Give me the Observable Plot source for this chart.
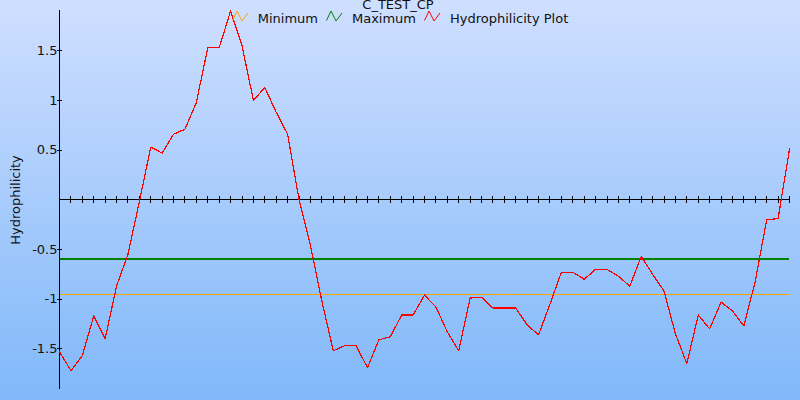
<!DOCTYPE html>
<html>
<head>
<meta charset="utf-8">
<script src="https://cdn.jsdelivr.net/npm/d3@7"></script>
<script src="https://cdn.jsdelivr.net/npm/@observablehq/plot@0.6"></script>
<style>
html, body { margin: 0; padding: 0; }
#chart {
  position: relative; width: 800px; height: 400px; overflow: hidden;
  background: linear-gradient(to bottom, #cfdfff 0%, #80b8f9 100%);
  font-family: "DejaVu Sans", sans-serif; color: #111;
}
#plotHost { position: absolute; left: 0; top: 0; }
#title {
  position: absolute; top: -1.5px; left: 0; width: 796px; text-align: center;
  font-size: 13px; line-height: 12px; z-index: 2;
}
#legend {
  position: absolute; top: 11.5px; left: 0; width: 800px; z-index: 2;
  display: flex; justify-content: center; font-size: 13px; line-height: 13px;
}
.item { display: flex; align-items: flex-start; margin: 0 4px; }
.item svg { display: block; margin-right: 9px; margin-top: -1.5px; }
</style>
</head>
<body>
<div id="chart">
  <div id="plotHost"></div>
  <div id="title"></div>
  <div id="legend"></div>
</div>
<script>
// ---- data ----
const title = "C_TEST_CP";
const yLabel = "Hydrophilicity";
const seriesNames = ["Minimum", "Maximum", "Hydrophilicity Plot"];
const seriesColors = ["#ffa500", "#008000", "#ff0000"];
const minimumValue = -0.955;
const maximumValue = -0.6;
const hydrophilicity = [
  -1.53, -1.72, -1.57, -1.17, -1.40, -0.87, -0.55, -0.02, 0.53, 0.47,
  0.66, 0.71, 0.98, 1.53, 1.53, 1.90, 1.55, 1.00, 1.13, 0.88,
  0.66, 0.00, -0.46, -1.02, -1.52, -1.47, -1.47, -1.69, -1.41, -1.38,
  -1.16, -1.16, -0.96, -1.08, -1.33, -1.52, -0.99, -0.98, -1.09, -1.09,
  -1.09, -1.26, -1.36, -1.05, -0.73, -0.73, -0.80, -0.70, -0.70, -0.77,
  -0.87, -0.57, -0.75, -0.92, -1.35, -1.65, -1.16, -1.30, -1.03, -1.12,
  -1.27, -0.82, -0.20, -0.19, 0.51
];
const positions = hydrophilicity.map((_, i) => i);
const yTicks = [-1.5, -1, -0.5, 0.5, 1, 1.5];
const yTickLabels = ["-1.5", "-1", "-0.5", "0.5", "1", "1.5"];

// ---- chart ----
const rows = positions.map((p, i) => ({pos: p, value: hydrophilicity[i]}));
const xTickPositions = positions.slice(1);

const plot = Plot.plot({
  width: 800,
  height: 400,
  marginLeft: 59,
  marginRight: 11,
  marginTop: 10,
  marginBottom: 11,
  style: {background: "transparent", fontFamily: "DejaVu Sans, sans-serif", fontSize: "13px", color: "#111"},
  x: {domain: [0, positions.length - 1], axis: null},
  y: {domain: [-1.91, 1.905]},
  marks: [
    Plot.ruleY([minimumValue], {stroke: seriesColors[0], strokeWidth: 1, shapeRendering: "crispEdges"}),
    Plot.ruleY([maximumValue], {stroke: seriesColors[1], strokeWidth: 2, shapeRendering: "crispEdges"}),
    Plot.ruleY([0], {stroke: "#000", strokeWidth: 1.2, shapeRendering: "crispEdges"}),
    Plot.ruleX(xTickPositions, {x: d => d, y1: 0, y2: 0, insetTop: -3, insetBottom: -3.5, stroke: "#000", strokeWidth: 1, shapeRendering: "crispEdges"}),
    Plot.ruleX([0], {stroke: "#000", strokeWidth: 1.2, shapeRendering: "crispEdges"}),
    Plot.ruleY(yTicks, {y: d => d, x1: 0, x2: 0, insetLeft: -2.5, insetRight: -3, stroke: "#000", strokeWidth: 1, shapeRendering: "crispEdges"}),
    Plot.axisY({ticks: yTicks, tickSize: 0, tickPadding: 2, tickFormat: d => yTickLabels[yTicks.indexOf(d)], fontSize: 13, label: null}),
    Plot.line(rows, {x: "pos", y: "value", stroke: seriesColors[2], strokeWidth: 1.2, shapeRendering: "crispEdges"}),
    Plot.text([yLabel], {frameAnchor: "left", textAnchor: "middle", dx: -44, rotate: -90, fontSize: 13, fill: "#111"})
  ]
});
document.getElementById("plotHost").appendChild(plot);

document.getElementById("title").textContent = title;
const legend = document.getElementById("legend");
seriesNames.forEach((name, i) => {
  const item = document.createElement("div");
  item.className = "item";
  item.innerHTML = `<svg width="17" height="12" viewBox="0 0 17 12"><polyline points="0.5,10.5 5,1 10,11 16,3" fill="none" stroke="${seriesColors[i]}" stroke-width="1"/></svg><span></span>`;
  item.querySelector("span").textContent = name;
  legend.appendChild(item);
});
</script>
</body>
</html>
